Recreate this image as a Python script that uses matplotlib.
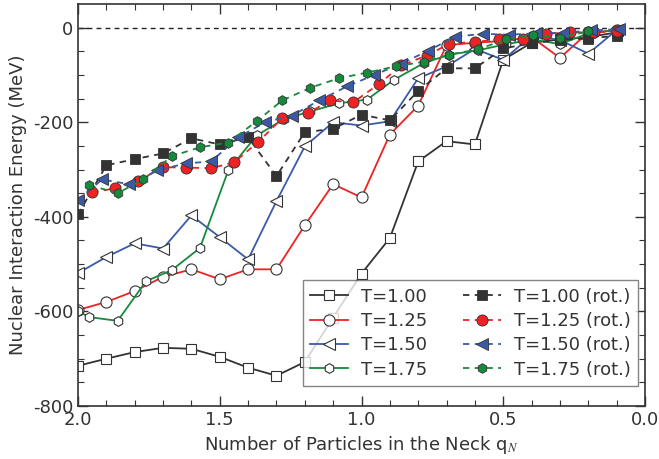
import numpy as np
import matplotlib
matplotlib.use('Agg')
from matplotlib import pyplot as plt

plt.rcParams['font.family'] = ['DejaVu Sans']
plt.rcParams['axes.unicode_minus'] = False
plt.rcParams['mathtext.fontset'] = 'stix'

# q_N grid used by the T=1.00, 1.25, 1.50 non-rotating runs
q_std = [2.0, 1.9, 1.8, 1.7, 1.6, 1.5, 1.4, 1.3, 1.2, 1.1,
         1.0, 0.9, 0.8, 0.7, 0.6, 0.5, 0.4, 0.3, 0.2, 0.1]

e_t100 = [-715, -700, -686, -677, -679, -696, -719, -736, -707, -613,
          -520, -445, -283, -240, -247, -68, -32, -25, -20, -10]
e_t125 = [-597, -580, -557, -527, -511, -532, -511, -511, -418, -331,
          -359, -226, -165, -37, -32, -28, -20, -64, -10, -6]
e_t150 = [-519, -485, -456, -467, -397, -443, -490, -367, -251, -200,
          -207, -198, -107, -82, -45, -68, -17, -26, -55, -5]

q_t175 = [2.0, 1.96, 1.86, 1.76, 1.67, 1.57, 1.47, 1.37, 1.275, 1.18, 1.08,
          0.98, 0.885, 0.78, 0.69, 0.59, 0.49, 0.395, 0.30, 0.20, 0.10]
e_t175 = [-600, -612, -620, -536, -513, -466, -302, -228, -194, -177, -160,
          -152, -110, -75, -57, -48, -35, -25, -35, -12, -5]

# rotating runs
e_t100r = [-395, -291, -278, -266, -234, -247, -232, -314, -221, -214,
           -184, -196, -134, -86, -86, -44, -33, -26, -23, -17]

q_t125r = [1.95, 1.87, 1.79, 1.70, 1.62, 1.53, 1.45, 1.365, 1.28, 1.19, 1.11,
           1.03, 0.94, 0.86, 0.77, 0.69, 0.60, 0.515, 0.43, 0.35, 0.265, 0.18, 0.10]
e_t125r = [-348, -340, -325, -295, -296, -297, -285, -242, -192, -181, -154,
           -158, -120, -80, -59, -34, -30, -25, -23, -13, -10, -10, -8]

q_t150r = [2.0, 1.915, 1.82, 1.72, 1.62, 1.53, 1.435, 1.34, 1.245, 1.15, 1.05,
           0.955, 0.86, 0.765, 0.67, 0.57, 0.48, 0.385, 0.29, 0.19, 0.09]
e_t150r = [-365, -321, -331, -302, -287, -283, -232, -200, -186, -154, -124,
           -100, -76, -49, -19, -13, -15, -12, -11, -6, -3]

q_t175r = [1.96, 1.86, 1.77, 1.67, 1.57, 1.47, 1.37, 1.28, 1.18, 1.08,
           0.98, 0.88, 0.78, 0.69, 0.59, 0.49, 0.395, 0.30, 0.20]
e_t175r = [-333, -350, -321, -272, -253, -243, -198, -154, -127, -107,
           -95, -82, -72, -57, -46, -25, -15, -21, -8]

c_k = '#333333'
c_r = '#ee2222'
c_b = '#3a5aa8'
c_g = '#158a3c'
edge = '#333333'

fig = plt.figure(figsize=(6.59, 4.59), dpi=100)
ax = fig.add_axes([78/659, 1-406/459, (645-78)/659, (406-4)/459])

ax.axhline(0, color='#222222', lw=1.0, ls=(0, (3.5, 3)), zorder=1)

lw = 1.3
dash = (0, (3.5, 3))
ax.plot(q_std, e_t100, '-', color=c_k, lw=lw, marker='s', ms=7.5,
        mfc='white', mec=edge, mew=0.8, label='T=1.00')
ax.plot(q_std, e_t125, '-', color=c_r, lw=lw, marker='o', ms=8,
        mfc='white', mec=edge, mew=0.8, label='T=1.25')
ax.plot(q_std, e_t150, '-', color=c_b, lw=lw, marker='<', ms=9,
        mfc='white', mec=edge, mew=0.8, label='T=1.50')
ax.plot(q_t175, e_t175, '-', color=c_g, lw=lw, marker='h', ms=7,
        mfc='white', mec=edge, mew=0.8, label='T=1.75')

ax.plot(q_std, e_t100r, ls=dash, color=c_k, lw=lw, marker='s', ms=7.5,
        mfc=c_k, mec=edge, mew=0.6, label='T=1.00 (rot.)')
ax.plot(q_t125r, e_t125r, ls=dash, color=c_r, lw=lw, marker='o', ms=8,
        mfc=c_r, mec=edge, mew=0.6, label='T=1.25 (rot.)')
ax.plot(q_t150r, e_t150r, ls=dash, color=c_b, lw=lw, marker='<', ms=9,
        mfc=c_b, mec=edge, mew=0.6, label='T=1.50 (rot.)')
ax.plot(q_t175r, e_t175r, ls=dash, color=c_g, lw=lw, marker='h', ms=7,
        mfc=c_g, mec=edge, mew=0.6, label='T=1.75 (rot.)')

ax.set_xlim(2.0, 0.0)
ax.set_ylim(-800, 50)
ax.set_xticks([2.0, 1.5, 1.0, 0.5, 0.0])
ax.set_xticklabels(['2.0', '1.5', '1.0', '0.5', '0.0'])
ax.set_xticks(np.arange(0.1, 2.0, 0.1), minor=True)
ax.set_yticks([-800, -600, -400, -200, 0])
ax.set_yticks([-750, -700, -650, -550, -500, -450, -350, -300, -250, -150, -100, -50], minor=True)

for s in ax.spines.values():
    s.set_color('#333333')
    s.set_linewidth(1.2)
ax.tick_params(which='both', direction='in', top=True, right=True,
               colors='#333333', labelsize=13, labelcolor='#333333')
ax.tick_params(which='major', length=7, width=1.0)
ax.tick_params(which='minor', length=4, width=0.8)

ax.set_xlabel(r'Number of Particles in the Neck q$_{N}$', fontsize=13, color='#333333')
ax.set_ylabel('Nuclear Interaction Energy (MeV)', fontsize=13, color='#333333')

leg = ax.legend(ncol=2, loc='lower right', bbox_to_anchor=(0.9877, 0.05),
                borderaxespad=0, fontsize=13, fancybox=False, frameon=True,
                handlelength=2.1, handletextpad=0.7, columnspacing=2.0,
                labelspacing=0.35, borderpad=0.4)
leg.get_frame().set_edgecolor('#666666')
leg.get_frame().set_linewidth(1.0)
for t in leg.get_texts():
    t.set_color('#333333')

fig.savefig('out.png', dpi=100)
